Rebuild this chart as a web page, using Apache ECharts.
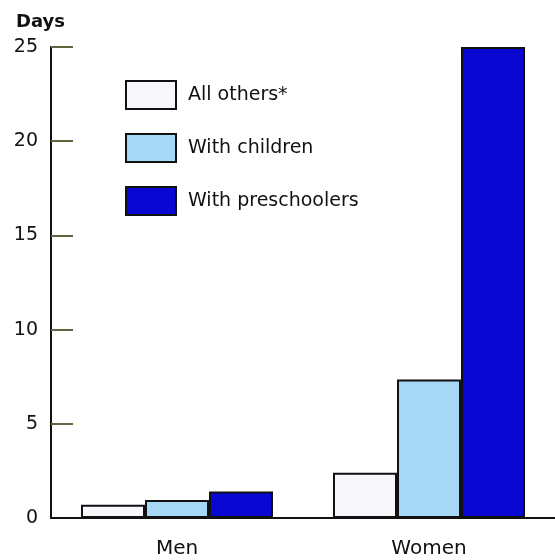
<!DOCTYPE html>
<html>
<head>
<meta charset="utf-8">
<script src="https://cdn.jsdelivr.net/npm/echarts@6/dist/echarts.min.js"></script>
<style>
  html, body { margin: 0; padding: 0; background: #fff; }
  #chart { width: 555px; height: 560px; }
</style>
</head>
<body>
<div id="chart"></div>
<script>
  var categories = ['Men', 'Women'];
  var allOthers = [0.7, 2.4];
  var withChildren = [0.95, 7.35];
  var withPreschoolers = [1.4, 25];
  var seriesNames = ['All others*', 'With children', 'With preschoolers'];

  var chart = echarts.init(document.getElementById('chart'));
  var font = 'DejaVu Sans, sans-serif';

  function barSeries(name, data, color) {
    return {
      name: name,
      type: 'bar',
      data: data,
      barWidth: 64,
      barGap: '0%',
      itemStyle: {
        color: color,
        borderColor: '#111',
        borderWidth: 2
      }
    };
  }

  chart.setOption({
    animation: false,
    grid: {
      left: 51,
      right: 0,
      top: 47,
      bottom: 42
    },
    title: {
      text: 'Days',
      left: 11,
      top: 8,
      textStyle: {
        fontFamily: font,
        fontSize: 18,
        fontWeight: 'bold',
        color: '#111'
      }
    },
    legend: {
      orient: 'vertical',
      left: 120,
      top: 75,
      itemWidth: 50,
      itemHeight: 28,
      itemGap: 23,
      icon: 'rect',
      data: seriesNames,
      textStyle: {
        fontFamily: font,
        fontSize: 19,
        color: '#111',
        padding: [0, 0, 0, 7]
      }
    },
    xAxis: {
      type: 'category',
      data: categories,
      z: 3,
      axisLine: { lineStyle: { color: '#111', width: 2 } },
      axisTick: { show: false },
      axisLabel: {
        fontFamily: font,
        fontSize: 20,
        color: '#111',
        margin: 21
      }
    },
    yAxis: {
      type: 'value',
      min: 0,
      max: 25,
      interval: 5,
      axisLine: { show: true, lineStyle: { color: '#111', width: 2 } },
      axisTick: {
        show: true,
        inside: true,
        length: 22,
        lineStyle: { color: '#5d6640', width: 2 }
      },
      splitLine: { show: false },
      axisLabel: {
        fontFamily: font,
        fontSize: 19,
        color: '#111',
        margin: 13
      }
    },
    series: [
      barSeries(seriesNames[0], allOthers, '#f7f7fc'),
      barSeries(seriesNames[1], withChildren, '#a6d8f6'),
      barSeries(seriesNames[2], withPreschoolers, '#0808d2')
    ]
  });
</script>
</body>
</html>
